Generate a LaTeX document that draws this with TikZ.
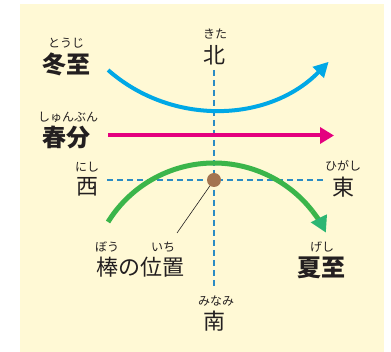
\documentclass[tikz,border=0pt]{standalone}
\usepackage{fontspec}
\newfontfamily\jp{Noto Sans CJK JP}
\usetikzlibrary{arrows.meta}
\definecolor{bg}{HTML}{FFF9D5}
\definecolor{txt}{HTML}{231F20}
\definecolor{skyb}{HTML}{00A8E6}
\definecolor{mag}{HTML}{E4007F}
\definecolor{grn}{HTML}{3BB54A}
\definecolor{grnhead}{HTML}{2CB673}
\definecolor{dashb}{HTML}{2B8CC4}
\definecolor{stick}{HTML}{A47450}
\tikzset{
  ruby/.style={font=\jp\fontsize{12}{13}\selectfont, text=txt, inner sep=0pt},
  dir/.style={font=\jp\fontsize{22}{24}\selectfont, text=txt, inner sep=0pt},
  season/.style={font=\jp\bfseries\fontsize{24}{26}\selectfont, text=txt, inner sep=0pt},
  guide/.style={dashb, line width=1.2pt, dash pattern=on 6pt off 4pt},
  path/.style={line width=4pt},
}
\begin{document}
\begin{tikzpicture}[x=1pt,y=1pt]
\useasboundingbox (0,0) rectangle (391,-352);
\fill[white] (0,0) rectangle (391,-352);
\fill[bg] (20,-4) rectangle (384,-352);

% guide lines
\coordinate (ntop) at (214,-70);
\coordinate (sbot) at (214,-288);
\coordinate (wl) at (107,-180);
\coordinate (er) at (323,-180);
\draw[guide] (ntop) -- (sbot);
\draw[guide] (wl) -- (er);

% sun paths
\draw[skyb, path, -{Triangle[length=15pt,width=15pt]}]
  (214,50.5) ++(228.7:160.5) arc[start angle=228.7, end angle=315.6, radius=160.5];
\coordinate (ms) at (108,-135.5);
\coordinate (me) at (334,-135.5);
\draw[mag, path, -{Triangle[length=14pt,width=16pt]}] (ms) -- (me);
\draw[grn, line width=5pt]
  (214,-287.7) ++(148.2:124.7) arc[start angle=148.2, end angle=38, radius=124.7];
\draw[grn, line width=5pt, -{Triangle[length=16pt,width=17pt,fill=grnhead,color=grnhead]}]
  (214,-287.7) ++(38:124.7) arc[start angle=38, end angle=26.2, radius=124.7];

% stick
\coordinate (stickc) at (214,-180);
\coordinate (lead) at (177,-233);
\draw[txt, line width=0.6pt] (stickc) -- (lead);
\node[circle, fill=stick, minimum size=14pt, inner sep=0pt] (stick) at (stickc) {};

% labels
\node[ruby] (r1) at (66,-43) {とうじ};
\node[season] (toji) at (66,-64) {冬至};
\node[ruby] (r2) at (68,-117) {しゅんぶん};
\node[season] (shun) at (66,-137) {春分};
\node[ruby] (r3) at (87,-167) {にし};
\node[dir] (nishi) at (87,-187) {西};
\node[ruby] (r4) at (215,-34) {きた};
\node[dir] (kita) at (214,-55) {北};
\node[ruby] (r5) at (343,-166) {ひがし};
\node[dir] (higashi) at (343,-187) {東};
\node[ruby] (r6) at (107,-247) {ぼう};
\node[ruby] (r7) at (163,-247) {いち};
\node[dir] (bou) at (140,-267) {棒の位置};
\node[ruby] (r8) at (322,-247) {げし};
\node[season] (geshi) at (321,-268) {夏至};
\node[ruby] (r9) at (216,-301) {みなみ};
\node[dir] (minami) at (214,-321) {南};
\end{tikzpicture}
\end{document}
